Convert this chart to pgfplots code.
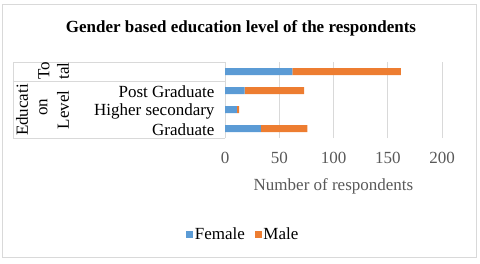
\documentclass[border=0pt]{standalone}
\usepackage{fontspec}
\setmainfont{Liberation Serif}
\usepackage{pgfplots}
\pgfplotsset{compat=1.18}
\definecolor{xblue}{HTML}{5B9BD5}
\definecolor{xorange}{HTML}{ED7D31}
\definecolor{gridc}{HTML}{D9D9D9}
\definecolor{tickc}{HTML}{595959}
\newcommand{\fs}{\fontsize{17bp}{20bp}\selectfont}
\begin{document}
\begin{tikzpicture}[x=1bp,y=1bp]
\useasboundingbox (0,0) rectangle (480,-263);
\draw[gridc, line width=1bp] (2.5,-4) rectangle (476,-257);
\node[font=\fs\bfseries] at (241,-28.5) {Gender based education level of the respondents};
\begin{axis}[
  at={(225bp,-138bp)}, anchor=south west,
  scale only axis, width=217bp, height=76bp,
  xbar stacked, bar width=7bp,
  xmin=0, xmax=200, ymin=-0.5, ymax=3.5,
  xtick={0,50,100,150,200},
  ytick={0,1,2}, yticklabels={Graduate,Higher secondary,Post Graduate},
  major tick length=0pt,
  axis line style={draw=none},
  xmajorgrids, grid style={gridc, line width=0.8bp},
  /pgf/number format/assume math mode=true,
  tick label style={font=\fs},
  xticklabel style={text=tickc, yshift=-10.5bp},
  yticklabel style={text=black, xshift=-7bp, yshift=-1.5bp},
  xlabel={Number of respondents},
  xlabel style={font=\fs, text=tickc, at={(axis description cs:0.5,0)}, anchor=center, yshift=-48bp},
  legend columns=2,
  legend style={draw=none, fill=none, font=\fs, at={(axis description cs:0.085,-1.27)}, anchor=center,
    /tikz/every even column/.append style={column sep=8bp}},
  legend image code/.code={\fill[#1] (0bp,-3bp) rectangle (6.5bp,3.5bp);},
]
\addplot[fill=xblue, draw=none] coordinates {(33,0) (11,1) (18,2) (62,3)};
\addplot[fill=xorange, draw=none] coordinates {(43,0) (2,1) (55,2) (100,3)};
\legend{Female,Male}
\end{axis}
\draw[gridc, line width=0.8bp] (13,-62) -- (225,-62);
\draw[gridc, line width=0.8bp] (13,-81) -- (225,-81);
\draw[gridc, line width=0.8bp] (13,-138) -- (225,-138);
\draw[gridc, line width=0.8bp] (13,-62) -- (13,-138);
\node[font=\fs, rotate=90] at (22,-110) {Educati};
\node[font=\fs, rotate=90] at (43.5,-107) {on};
\node[font=\fs, rotate=90] at (63,-110) {Level};
\node[font=\fs, rotate=90] at (44,-70.5) {To};
\node[font=\fs, rotate=90] at (63,-71) {tal};
\end{tikzpicture}
\end{document}
